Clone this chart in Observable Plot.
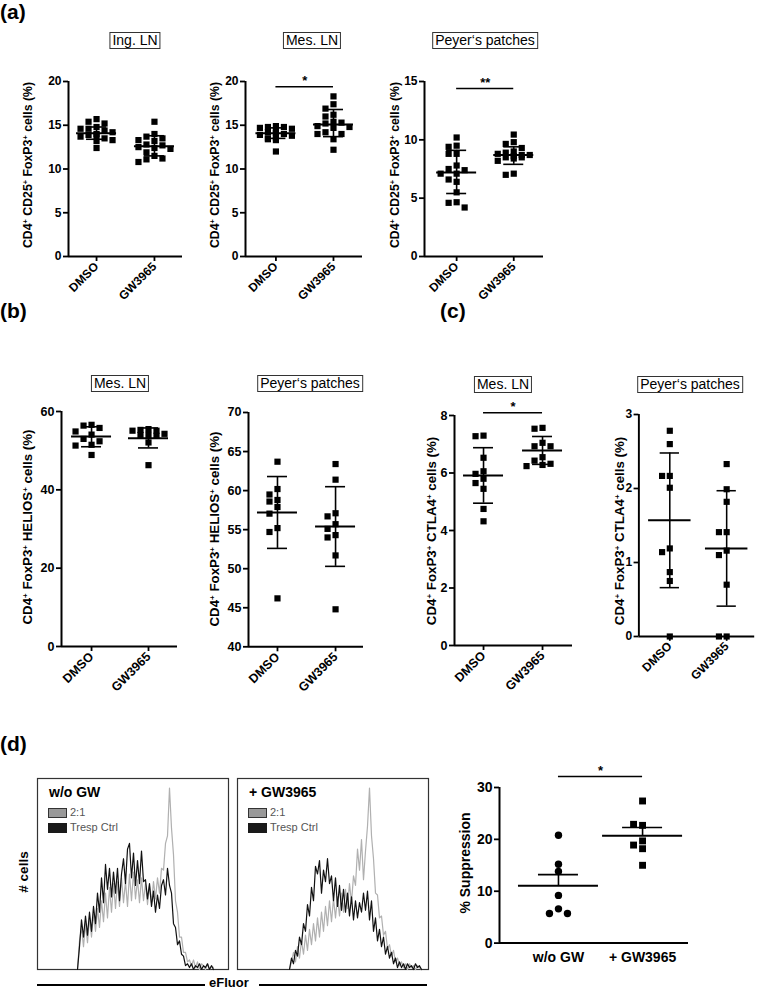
<!DOCTYPE html>
<html><head><meta charset="utf-8">
<script src="https://cdn.jsdelivr.net/npm/d3@7"></script>
<script src="https://cdn.jsdelivr.net/npm/@observablehq/plot@0.6"></script>
<style>
body{margin:0;background:#fff;}
#fig{position:relative;width:760px;height:991px;overflow:hidden;background:#fff;font-family:"Liberation Sans",Arial,Helvetica,sans-serif;color:#000;}
.abs{position:absolute;white-space:nowrap;}
.panel{font-weight:bold;font-size:21px;line-height:22px;}
.tbox{border:1.5px solid #333;font-size:14px;line-height:15px;padding:0 2px;transform:translateX(-50%);}
.ylab{font-weight:bold;line-height:14px;transform:translate(-50%,-50%) rotate(-90deg);}
.ylab sup{font-size:0.6em;vertical-align:0.55em;line-height:0;}
</style></head><body><div id="fig"></div>
<script>
// ---------------- DATA ----------------
const groupsTx = ["DMSO", "GW3965"];
const groupsSupp = ["w/o GW", "+ GW3965"];

// (a) CD4+ CD25+ FoxP3+ cells (%)
const ingLN_DMSO = [15.7, 15.4, 15.2, 14.8, 14.6, 14.6, 14.4, 14.2, 14.0, 13.9, 13.9, 13.7, 13.5, 13.3, 13.2, 12.4];
const ingLN_GW   = [15.4, 14.0, 13.7, 13.5, 13.3, 13.2, 12.8, 12.7, 12.5, 12.4, 12.3, 11.9, 11.5, 11.2, 11.1, 10.8];
const ingLN_mean = [14.1, 12.6], ingLN_lo = [13.4, 11.5], ingLN_hi = [14.8, 13.8];

const mesLNa_DMSO = [14.9, 14.8, 14.8, 14.7, 14.6, 14.4, 14.2, 14.1, 14.0, 13.9, 13.8, 13.6, 13.5, 13.4, 13.3, 12.0];
const mesLNa_GW   = [18.3, 17.4, 16.9, 16.2, 16.0, 15.4, 15.3, 15.2, 14.9, 14.8, 14.7, 14.2, 14.0, 14.0, 13.4, 12.2];
const mesLNa_mean = [14.1, 15.1], mesLNa_lo = [13.5, 13.7], mesLNa_hi = [14.7, 16.8];
const mesLNa_sig = 19.4;

const ppA_DMSO = [10.2, 9.5, 9.4, 8.8, 8.8, 7.8, 7.5, 7.4, 7.1, 7.1, 6.6, 6.4, 5.5, 4.65, 4.6, 4.2];
const ppA_GW   = [10.45, 9.8, 9.65, 9.3, 9.0, 8.9, 8.8, 8.7, 8.7, 8.6, 8.5, 8.5, 8.4, 8.2, 7.1, 7.0];
const ppA_mean = [7.2, 8.7], ppA_lo = [5.4, 7.9], ppA_hi = [9.1, 9.4];
const ppA_sig = 14.4;

// (b) CD4+ FoxP3+ HELIOS+ cells (%)
const mesLNb_DMSO = [56.6, 56.4, 55.8, 54.9, 54.1, 53.0, 52.4, 51.5, 51.3, 48.9];
const mesLNb_GW   = [55.5, 55.3, 55.1, 55.1, 54.3, 54.0, 54.0, 53.8, 52.1, 46.3];
const mesLNb_mean = [53.6, 53.2], mesLNb_lo = [51.0, 50.7], mesLNb_hi = [56.1, 55.8];

const ppB_DMSO = [63.7, 60.2, 59.5, 58.8, 58.6, 57.9, 57.05, 55.2, 54.7, 46.2];
const ppB_GW   = [63.4, 61.4, 57.1, 56.7, 55.7, 55.1, 54.3, 54.0, 51.7, 44.8];
const ppB_mean = [57.2, 55.4], ppB_lo = [52.6, 50.3], ppB_hi = [61.8, 60.5];

// (c) CD4+ FoxP3+ CTLA4+ cells (%)
const mesLNc_DMSO = [7.30, 7.28, 6.53, 6.06, 5.97, 5.80, 5.65, 5.45, 4.75, 4.32];
const mesLNc_GW   = [7.57, 7.54, 7.05, 6.93, 6.93, 6.55, 6.43, 6.32, 6.28, 6.24];
const mesLNc_mean = [5.91, 6.78], mesLNc_lo = [4.95, 6.3], mesLNc_hi = [6.88, 7.27];
const mesLNc_sig = 8.1;

const ppC_DMSO = [2.78, 2.60, 2.17, 2.17, 2.01, 1.19, 1.14, 0.87, 0.75, 0];
const ppC_GW   = [2.33, 1.99, 1.82, 1.41, 1.41, 1.16, 1.10, 0.70, 0, 0];
const ppC_mean = [1.57, 1.19], ppC_lo = [0.66, 0.41], ppC_hi = [2.48, 1.97];

// (d) % Suppression
const supp_woGW = [20.8, 15.2, 13.8, 9.2, 6.6, 5.7, 5.7];
const supp_GW   = [27.4, 22.7, 22.9, 18.2, 18.9, 19.7, 15.0];
const supp_mean = [11.05, 20.7], supp_sem_hi = [13.2, 22.3];
const supp_sig = 32.1;

// (d) eFluor histograms (counts per bin, relative units), first bin index given
const histWo_start = 20;
const histWo_tresp = [0,12,26,17,28,18,30,20,33,24, 40,30,48,35,55,42,53,38,51,40, 53,36,50,58,45,63,66,48,61,44, 57,45,62,46,47,37,45,33,41,30, 39,32,44,47,39,53,44,40,24,22, 13,15,8,7,2,3,1,3,0,2, 1,3,0,2,1,3,0,2,0];
const histWo_ratio = [0,15,22,12,24,14,27,17,29,20, 32,22,36,25,40,27,43,30,45,32, 46,33,48,35,46,33,50,36,51,37, 47,35,48,36,45,34,44,35,46,37, 48,40,53,52,66,70,95,74,60,36, 30,17,17,9,9,4,5,2,5,1, 4,0,3,2,0,3,0,2,1];
const histGW_start = 26;
const histGW_tresp = [0,6,3,10,7,17,13,24,20,34, 28,43,36,54,50,57,40,52,46,58, 45,49,36,48,33,44,31,42,30,40, 28,38,26,36,27,35,30,40,31,41, 26,36,20,27,15,21,12,17,8,12, 6,9,3,6,1,4,1,3,0,3, 1,2,0,3,1,2,0];
const histGW_ratio = [0,4,9,4,12,6,15,8,18,10, 21,13,24,15,27,17,30,20,33,23, 36,25,37,27,38,28,40,30,42,32, 45,35,49,44,63,52,68,47,62,75, 95,70,58,40,39,27,28,18,20,11, 13,7,10,4,6,2,4,1,3,0, 3,1,2,0,2,1,0];

// ---------------- LAYOUT ----------------
const FONT = '"Liberation Sans", Arial, Helvetica, sans-serif';
const fig = document.getElementById("fig");
function add(html, cls, style){const d=document.createElement("div");d.className="abs "+(cls||"");d.innerHTML=html;Object.assign(d.style,style);fig.appendChild(d);return d;}
function title(t,cx,top){add(t,"tbox",{left:cx+"px",top:top+"px"});}
function ylab(t,cx,cy,fs){add(t,"ylab",{left:cx+"px",top:cy+"px",fontSize:fs+"px"});}
const sp = s => s.replace(/\+/g,"<sup>+</sup>");

function scatter(c){
  const ml=46, mr=6, mt=28, mb=60;
  const plotW=c.xEnd-c.axisX, plotH=c.yBot-c.yTop;
  const [d0,d1]=c.domain;
  const ky=plotH/(d1-d0);
  const step=c.step||8, th=c.th||7, r=c.r||3.5, fs=c.fs||12;
  const cands=[0,-1,1,-2,2,-0.5,0.5,-1.5,1.5,-2.5,2.5].map(k=>k*step);
  const pts=c.groups.map((vals,gi)=>{
    const placed=[];
    return vals.map(v=>{
      const py=v*ky; let best=0,bestN=Infinity;
      for(const o of cands){
        const n=placed.filter(p=>Math.abs(p.py-py)<th&&Math.abs(p.o-o)<th).length;
        if(n<bestN){bestN=n;best=o;} if(n===0)break;
      }
      placed.push({py,o:best});
      return {v,x:c.pos[gi]+best/plotW};
    });
  });
  const stats=c.pos.map((p,i)=>({x:p,mean:c.means[i],lo:c.lo?c.lo[i]:c.means[i],hi:c.hi[i]}));
  const mh=(c.meanHalf||20)/plotW, ch=(c.capHalf||10)/plotW;
  const marks=[
    Plot.ruleY([d0],{strokeWidth:2}),
    Plot.ruleX([0],{strokeWidth:2}),
    Plot.axisY({ticks:c.ticks,tickFormat:d=>String(d),tickSize:5,tickPadding:2,strokeWidth:1.8,fontSize:fs,fontWeight:"bold",label:null}),
    Plot.axisX({ticks:c.pos,tickFormat:d=>c.cats[c.pos.indexOf(d)],tickRotate:c.rotate===undefined?-45:c.rotate,tickSize:c.xTickSize===undefined?5:c.xTickSize,tickPadding:c.xPad||3,strokeWidth:1.8,fontSize:c.xfs||fs,fontWeight:"bold",label:null}),
    Plot.ruleX(stats,{x:"x",y1:"lo",y2:"hi",strokeWidth:1.6}),
    Plot.ruleY(stats,{y:"hi",x1:d=>d.x-ch,x2:d=>d.x+ch,strokeWidth:1.6}),
  ];
  if(c.lo) marks.push(Plot.ruleY(stats,{y:"lo",x1:d=>d.x-ch,x2:d=>d.x+ch,strokeWidth:1.6}));
  marks.push(Plot.ruleY(stats,{y:"mean",x1:d=>d.x-mh,x2:d=>d.x+mh,strokeWidth:2}));
  pts.forEach((p,gi)=>marks.push(Plot.dot(p,{x:"x",y:"v",symbol:c.symbols?c.symbols[gi]:"square",r:c.rs?c.rs[gi]:r,fill:"#000",stroke:null})));
  if(c.sig!==undefined){
    marks.push(Plot.ruleY([c.sig],{x1:c.pos[0],x2:c.pos[1],strokeWidth:1.5}));
    marks.push(Plot.text([c.sigLabel||"*"],{x:(c.pos[0]+c.pos[1])/2,y:c.sig,text:d=>d,dy:-6,fontSize:13,fontWeight:"bold"}));
  }
  const svg=Plot.plot({
    width:ml+plotW+mr,height:mt+plotH+mb,marginLeft:ml,marginRight:mr,marginTop:mt,marginBottom:mb,
    style:{fontFamily:FONT,overflow:"visible",background:"transparent",color:"#000"},
    x:{domain:[0,1]}, y:{domain:c.domain},
    marks
  });
  const wrap=add("","",{left:(c.axisX-ml)+"px",top:(c.yTop-mt)+"px"});
  wrap.appendChild(svg);
}

// panel letters
add("(a)","panel",{left:"0px",top:"1px"});
add("(b)","panel",{left:"0px",top:"300px"});
add("(c)","panel",{left:"440px",top:"300px"});
add("(d)","panel",{left:"0px",top:"733px"});

// ---- (a)
title("Ing. LN",135,32); title("Mes. LN",312,32); title("Peyer‘s patches",485,32);
const labA = sp("CD4+ CD25+ FoxP3+ cells (%)");
ylab(labA,28,165,12.3); ylab(labA,215,165,12.3); ylab(labA,395,165,12.3);
scatter({axisX:68,yTop:81,yBot:256,xEnd:182,domain:[0,20],ticks:[0,5,10,15,20],pos:[0.246,0.754],cats:groupsTx,
  groups:[ingLN_DMSO,ingLN_GW],means:ingLN_mean,lo:ingLN_lo,hi:ingLN_hi});
scatter({axisX:245,yTop:81,yBot:256,xEnd:362,domain:[0,20],ticks:[0,5,10,15,20],pos:[0.26,0.752],cats:groupsTx,
  groups:[mesLNa_DMSO,mesLNa_GW],means:mesLNa_mean,lo:mesLNa_lo,hi:mesLNa_hi,sig:mesLNa_sig});
scatter({axisX:424,yTop:81,yBot:256,xEnd:543,domain:[0,15],ticks:[0,5,10,15],pos:[0.27,0.75],cats:groupsTx,
  groups:[ppA_DMSO,ppA_GW],means:ppA_mean,lo:ppA_lo,hi:ppA_hi,sig:ppA_sig,sigLabel:"**"});

// ---- (b)
title("Mes. LN",120,375); title("Peyer‘s patches",310,375);
const labB = sp("CD4+ FoxP3+ HELIOS+ cells (%)");
ylab(labB,28,527,13.3); ylab(labB,215,529,13.3);
scatter({axisX:61,yTop:411,yBot:646,xEnd:177,domain:[0,60],ticks:[0,20,40,60],pos:[0.259,0.75],cats:groupsTx,fs:12.5,
  groups:[mesLNb_DMSO,mesLNb_GW],means:mesLNb_mean,lo:mesLNb_lo,hi:mesLNb_hi});
scatter({axisX:248,yTop:411.7,yBot:646,xEnd:363,domain:[40,70],ticks:[40,45,50,55,60,65,70],pos:[0.252,0.757],cats:groupsTx,fs:12.5,
  groups:[ppB_DMSO,ppB_GW],means:ppB_mean,lo:ppB_lo,hi:ppB_hi});

// ---- (c)
title("Mes. LN",503,376); title("Peyer‘s patches",690,376);
const labC = sp("CD4+ FoxP3+ CTLA4+ cells (%)");
ylab(labC,432,531,13.3); ylab(labC,620,531,13.3);
scatter({axisX:454,yTop:415,yBot:645,xEnd:572,domain:[0,8],ticks:[0,2,4,6,8],pos:[0.246,0.746],cats:groupsTx,fs:12.5,
  groups:[mesLNc_DMSO,mesLNc_GW],means:mesLNc_mean,lo:mesLNc_lo,hi:mesLNc_hi,sig:mesLNc_sig});
scatter({axisX:640,yTop:415,yBot:645,xEnd:760,domain:[0,3],ticks:[0,1,2,3],pos:[0.267,0.758],cats:groupsTx,fs:12.5,r:3.6,
  groups:[ppC_DMSO,ppC_GW],means:ppC_mean,lo:ppC_lo,hi:ppC_hi,meanHalf:22});

// ---- (d) histograms
function histo(left,start,tresp,ratio,name){
  const top=777;
  const svg=Plot.plot({width:193,height:193,margin:1,
    style:{overflow:"visible",background:"transparent"},
    x:{domain:[0,95.5],axis:null}, y:{domain:[0,100],axis:null},
    marks:[
      Plot.frame({stroke:"#333",strokeWidth:1.2}),
      Plot.lineY(ratio,{x:(d,i)=>start+i,y:d=>d,stroke:"#b0b0b0",strokeWidth:1.2}),
      Plot.lineY(tresp,{x:(d,i)=>start+i,y:d=>d,stroke:"#111",strokeWidth:1.2})
    ]});
  const w=add("","",{left:left+"px",top:top+"px"}); w.appendChild(svg);
  const L=left+1;
  add(name,"",{left:(L+12)+"px",top:"784px",fontSize:"14px",fontWeight:"bold",lineHeight:"16px"});
  add("","",{left:(L+11)+"px",top:"808px",width:"19px",height:"10px",background:"#999",border:"1.5px solid #333",boxSizing:"border-box"});
  add("2:1","",{left:(L+33)+"px",top:"806px",fontSize:"11px",color:"#555",lineHeight:"13px"});
  add("","",{left:(L+11)+"px",top:"823px",width:"19px",height:"10px",background:"#1a1a1a",boxSizing:"border-box"});
  add("Tresp Ctrl","",{left:(L+33)+"px",top:"821px",fontSize:"11px",color:"#555",lineHeight:"13px"});
}
histo(36,histWo_start,histWo_tresp,histWo_ratio,"w/o GW");
histo(236,histGW_start,histGW_tresp,histGW_ratio,"+ GW3965");
ylab("# cells",24,872,13.5);
add("","",{left:"37px",top:"984px",width:"168px",height:"1.6px",background:"#000"});
add("","",{left:"259px",top:"984px",width:"168px",height:"1.6px",background:"#000"});
add("eFluor","",{left:"209px",top:"976px",fontSize:"13px",fontWeight:"bold",lineHeight:"14px"});

// ---- (d) suppression
ylab("% Suppression",465,863,14);
scatter({axisX:499,yTop:786.7,yBot:942.3,xEnd:688,domain:[0,30],ticks:[0,10,20,30],pos:[0.312,0.757],cats:groupsSupp,fs:14,xfs:14,
  rotate:0,xTickSize:0,xPad:9,r:3.7,symbols:["circle","square"],rs:[3.7,3.9],step:9,th:7,
  groups:[supp_woGW,supp_GW],means:supp_mean,hi:supp_sem_hi,meanHalf:40,capHalf:20,sig:supp_sig});
</script></body></html>
